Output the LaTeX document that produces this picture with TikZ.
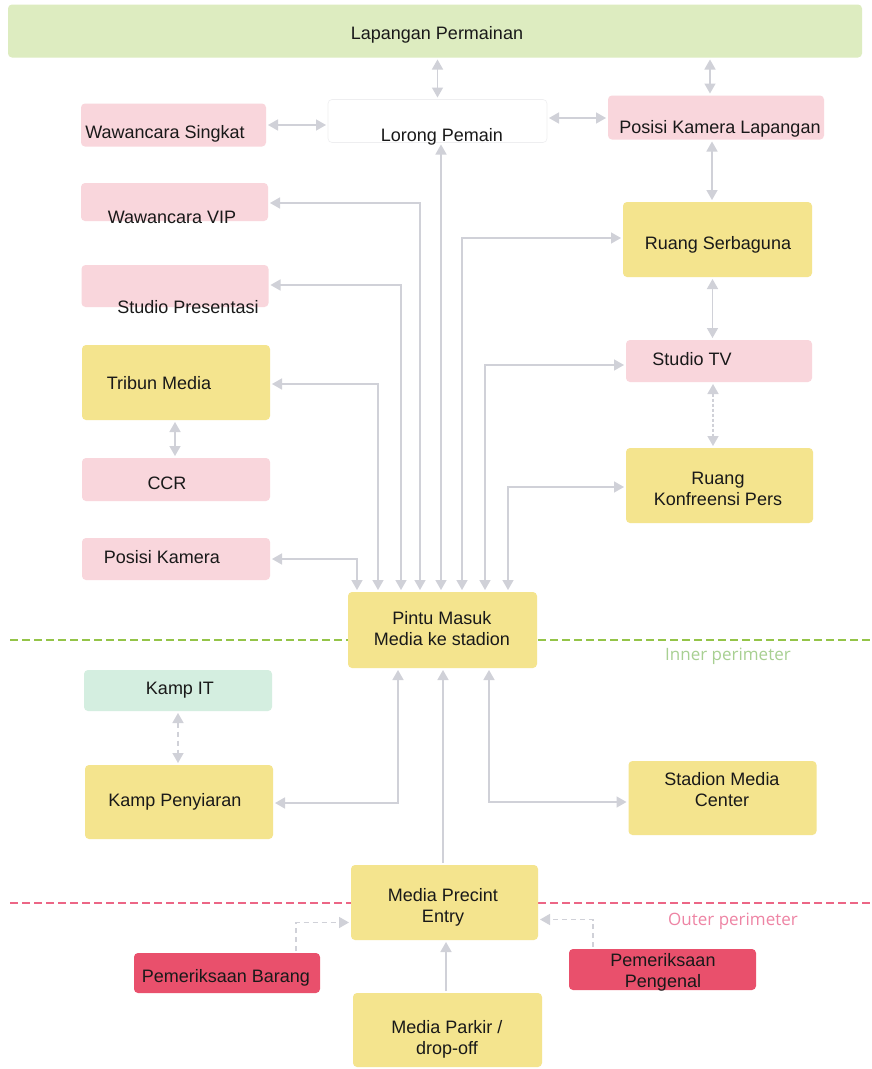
\documentclass[tikz,border=0pt]{standalone}
\usepackage{fontspec}
\setmainfont{Liberation Sans}
\newfontfamily\perimfont{Open Sans}
\usetikzlibrary{arrows.meta,calc}

\definecolor{boxyellow}{RGB}{244,228,142}
\definecolor{boxpink}{RGB}{249,214,220}
\definecolor{boxgreen}{RGB}{221,236,192}
\definecolor{boxmint}{RGB}{212,238,224}
\definecolor{boxred}{RGB}{233,80,108}
\definecolor{boxedge}{RGB}{238,238,240}
\definecolor{linkgray}{RGB}{208,209,216}
\definecolor{innergreen}{RGB}{148,196,72}
\definecolor{outerpink}{RGB}{236,102,134}
\definecolor{innerlabel}{RGB}{168,208,146}
\definecolor{outerlabel}{RGB}{238,132,164}
\definecolor{inktext}{RGB}{25,25,25}

\tikzset{
  area/.style={rounded corners=4pt, inner sep=0pt, outer sep=0pt, draw=none},
  yellowbox/.style={area, fill=boxyellow},
  pinkbox/.style={area, fill=boxpink},
  greenbox/.style={area, fill=boxgreen},
  mintbox/.style={area, fill=boxmint},
  redbox/.style={area, fill=boxred},
  whitebox/.style={area, fill=white, draw=boxedge, line width=0.6pt},
  txt/.style={text=inktext, font=\fontsize{18}{21}\selectfont, align=center, inner sep=0pt},
  perimlabel/.style={font=\perimfont\fontsize{17}{20}\selectfont, inner sep=0pt},
  perimline/.style={line width=2pt, dash pattern=on 8pt off 4pt},
  link/.style={draw=linkgray, line width=1.5pt, shorten >=2pt, shorten <=2pt},
  both/.style={link, {Triangle[length=10pt,width=11pt]}-{Triangle[length=10pt,width=11pt]}},
  one/.style={link, -{Triangle[length=10pt,width=11pt]}},
  dashlink/.style={dash pattern=on 5pt off 4pt},
  finedash/.style={dash pattern=on 3pt off 2pt}
}

\begin{document}
\begin{tikzpicture}[x=1pt,y=-1pt]
\useasboundingbox[fill=white] (0,0) rectangle (871,1069);

% perimeter boundaries
\coordinate (inner-w) at (10,640);
\coordinate (inner-e) at (871,640);
\coordinate (outer-w) at (10,903);
\coordinate (outer-e) at (871,903);
\draw[perimline, draw=innergreen] (inner-w) -- (inner-e);
\draw[perimline, draw=outerpink] (outer-w) -- (outer-e);
\node[perimlabel, text=innerlabel] (inner-lbl) at (728,656) {Inner perimeter};
\node[perimlabel, text=outerlabel] (outer-lbl) at (733,921) {Outer perimeter};

% boxes
\node[greenbox, minimum width=854pt, minimum height=53pt] (lap) at (435,31) {};
\node[pinkbox, minimum width=185pt, minimum height=43pt] (ws) at (173.5,125) {};
\node[whitebox, minimum width=219pt, minimum height=43pt] (lor) at (437.5,121) {};
\node[pinkbox, minimum width=216pt, minimum height=44pt] (pkl) at (716,117.5) {};
\node[pinkbox, minimum width=187pt, minimum height=38pt] (wvip) at (174.5,202) {};
\node[pinkbox, minimum width=187pt, minimum height=42pt] (sp) at (175,286) {};
\node[yellowbox, minimum width=188pt, minimum height=75pt] (tm) at (176,382.5) {};
\node[pinkbox, minimum width=188pt, minimum height=43pt] (ccr) at (176,479.5) {};
\node[pinkbox, minimum width=188pt, minimum height=42pt] (pk) at (176,559) {};
\node[yellowbox, minimum width=189pt, minimum height=75pt] (rs) at (717.5,239.5) {};
\node[pinkbox, minimum width=186pt, minimum height=42pt] (stv) at (719,361) {};
\node[yellowbox, minimum width=187pt, minimum height=75pt] (rkp) at (719.5,485.5) {};
\node[yellowbox, minimum width=189pt, minimum height=76pt] (pm) at (442.5,630) {};
\node[mintbox, minimum width=188pt, minimum height=41pt] (kit) at (178,690.5) {};
\node[yellowbox, minimum width=188pt, minimum height=74pt] (kpy) at (179,802) {};
\node[yellowbox, minimum width=188pt, minimum height=74pt] (smc) at (722.5,798) {};
\node[yellowbox, minimum width=187pt, minimum height=75pt] (mpe) at (444.5,902.5) {};
\node[redbox, minimum width=186pt, minimum height=40pt] (brg) at (227,973) {};
\node[redbox, minimum width=187pt, minimum height=41pt] (pgn) at (662.5,969.5) {};
\node[yellowbox, minimum width=189pt, minimum height=74pt] (mpk) at (447.5,1030) {};

% box texts
\node[txt] (lap-t) at (437,35) {Lapangan Permainan};
\node[txt] (ws-t) at (165,134) {Wawancara Singkat};
\node[txt] (lor-t) at (442,137) {Lorong Pemain};
\node[txt] (pkl-t) at (720,129) {Posisi Kamera Lapangan};
\node[txt] (wvip-t) at (172,217) {Wawancara VIP};
\node[txt] (sp-t) at (188,307) {Studio Presentasi};
\node[txt] (tm-t) at (159,383) {Tribun Media};
\node[txt] (ccr-t) at (167,483) {CCR};
\node[txt] (pk-t) at (162,557) {Posisi Kamera};
\node[txt] (rs-t) at (718,245) {Ruang Serbaguna};
\node[txt] (stv-t) at (692,359) {Studio TV};
\node[txt] (rkp-t) at (718,489) {Ruang\\Konfreensi Pers};
\node[txt] (pm-t) at (442,629) {Pintu Masuk\\Media ke stadion};
\node[txt] (kit-t) at (180,690) {Kamp IT};
\node[txt] (kpy-t) at (175,802) {Kamp Penyiaran};
\node[txt] (smc-t) at (722,790) {Stadion Media\\Center};
\node[txt] (mpe-t) at (443,907) {Media Precint\\Entry};
\node[txt] (brg-t) at (226,978) {Pemeriksaan Barang};
\node[txt] (pgn-t) at (663,972) {Pemeriksaan\\Pengenal};
\node[txt] (mpk-t) at (447,1039) {Media Parkir /\\drop-off};

% top row links
\draw[both] (lor.north) -- (lor.north |- lap.south);
\draw[both] ([xshift=-6pt]pkl.north) -- ([xshift=-6pt]pkl.north |- lap.south);
\draw[both] (ws.east) -- (ws.east -| lor.west);
\draw[both] ([yshift=3pt]lor.east) -- ([yshift=3pt]lor.east -| pkl.west);

% right column chain
\draw[both] ([xshift=-4pt]pkl.south) -- ([xshift=-4pt]pkl.south |- rs.north);
\draw[both] ([xshift=-5pt]rs.south) -- ([xshift=-5pt]rs.south |- stv.north);
\draw[both, finedash] ([xshift=-6pt]stv.south) -- ([xshift=-6pt]stv.south |- rkp.north);

% left column pair
\draw[both] ([xshift=-1pt]tm.south) -- ([xshift=-1pt]tm.south |- ccr.north);

% links gathering at the media entrance
\draw[both] (pk.east) -| ([xshift=-85.5pt]pm.north);
\draw[both] ([yshift=-1.5pt]tm.east) -| ([xshift=-64.5pt]pm.north);
\draw[both] ([yshift=1pt]sp.east) -| ([xshift=-41.5pt]pm.north);
\draw[both] ([yshift=-1pt]wvip.east) -| ([xshift=-22.5pt]pm.north);
\draw[both] ([xshift=-1.5pt]pm.north) -- ([xshift=-1.5pt]pm.north |- lor.south);
\draw[both] ([xshift=19.5pt]pm.north) |- ([yshift=1.5pt]rs.west);
\draw[both] ([xshift=42.5pt]pm.north) |- ([yshift=-4pt]stv.west);
\draw[both] ([xshift=65.5pt]pm.north) |- ([yshift=-1.5pt]rkp.west);

% links below the media entrance
\draw[both] ([xshift=-44.5pt]pm.south) |- ([yshift=-1pt]kpy.east);
\draw[both] ([xshift=46.5pt]pm.south) |- ([yshift=-4pt]smc.west);
\draw[one] ([xshift=-1.5pt]mpe.north) -- ([xshift=-1.5pt]mpe.north |- pm.south);
\draw[both, dashlink] (kit.south) -- (kit.south |- kpy.north);

% outer perimeter access
\draw[one] ([xshift=-1.5pt]mpk.north) -- ([xshift=-1.5pt]mpk.north |- mpe.south);
\draw[one, dashlink] ([xshift=69pt]brg.north) |- ([yshift=-20pt]mpe.west);
\draw[one, dashlink] ([xshift=-69.5pt]pgn.north) |- ([yshift=-17pt]mpe.east);
\end{tikzpicture}
\end{document}
